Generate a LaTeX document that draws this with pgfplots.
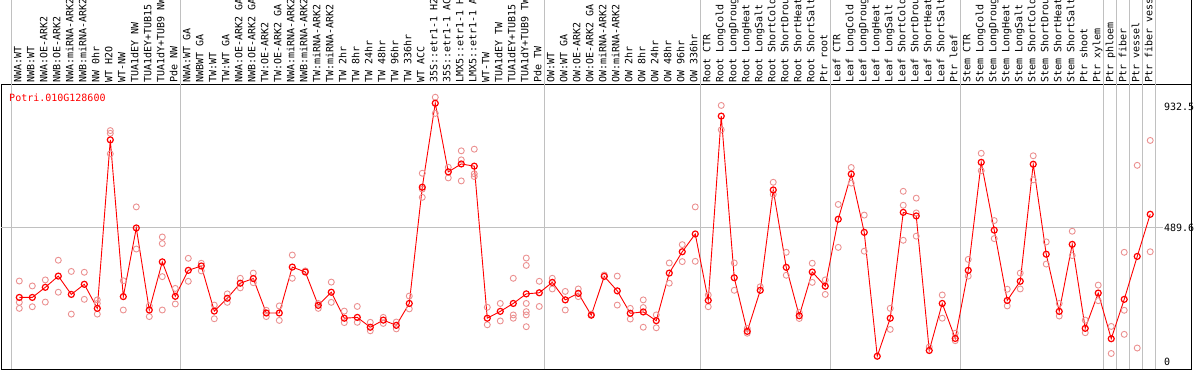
\documentclass[border=0pt]{standalone}
\usepackage{pgfplots}
\pgfplotsset{compat=1.18}
\usepackage{fontspec}
\setmonofont{DejaVu Sans Mono}
\definecolor{gridgray}{RGB}{192,192,192}
\definecolor{reppink}{RGB}{235,145,145}
\begin{document}
\begin{tikzpicture}
\begin{axis}[
  at={(1bp,1bp)}, anchor=south west,
  scale only axis, width=1191bp, height=284bp,
  xmin=-1.408, xmax=90.21, ymin=-26.7, ymax=1011.7,
  clip=false,
  axis line style={black, line width=1bp},
  ytick=\empty,
  xtick={0,...,87},
  major tick length=0pt,
  xticklabel pos=upper,
  xticklabel style={rotate=90, anchor=mid west, inner sep=0pt, yshift=0pt, xshift=2bp, font=\ttfamily\fontsize{10bp}{12bp}\selectfont},
  xticklabels={NWA:WT,NWB:WT,NWA:OE-ARK2,NWB:OE-ARK2,NWA:miRNA-ARK2,NWB:miRNA-ARK2,NW 0hr,WT H2O,WT-NW,TUA1dEY NW,TUA1dEY+TUB15,TUA1dY+TUB9 NW,Pde NW,
  NWA:WT GA,NWBWT GA,TW:WT,TW:WT GA,NWA:OE-ARK2 GA,NWB:OE-ARK2 GA,TW:OE-ARK2,TW:OE-ARK2 GA,NWA:miRNA-ARK2,NWB:miRNA-ARK2,TW:miRNA-ARK2,TW:miRNA-ARK2,TW 2hr,TW 8hr,TW 24hr,TW 48hr,TW 96hr,TW 336hr,WT ACC,35S::etr1-1 H2,35S::etr1-1 AC,LMX5::etr1-1 H,LMX5::etr1-1 A,WT-TW,TUA1dEY TW,TUA1dEY+TUB15,TUA1dY+TUB9 TW,Pde TW,
  OW:WT,OW:WT GA,OW:OE-ARK2,OW:OE-ARK2 GA,OW:miRNA-ARK2,OW:miRNA-ARK2,OW 2hr,OW 8hr,OW 24hr,OW 48hr,OW 96hr,OW 336hr,
  Root CTR,Root LongCold,Root LongDroug,Root LongHeat,Root LongSalt,Root ShortCold,Root ShortDrou,Root ShortHeat,Root ShortSalt,Ptr root,
  Leaf CTR,Leaf LongCold,Leaf LongDroug,Leaf LongHeat,Leaf LongSalt,Leaf ShortCold,Leaf ShortDrou,Leaf ShortHeat,Leaf ShortSalt,Ptr leaf,
  Stem CTR,Stem LongCold,Stem LongDroug,Stem LongHeat,Stem LongSalt,Stem ShortCold,Stem ShortDrou,Stem ShortHeat,Stem ShortSalt,Ptr shoot,
  Ptr xylem,Ptr phloem,Ptr fiber,Ptr vessel,Ptr fiber vess},
]
% grid lines
\draw[gridgray, line width=1bp] (axis cs:-1.408,489.6) -- (axis cs:87.98,489.6);
\draw[gridgray, line width=1bp] (axis cs:-0.6,-26.7) -- (axis cs:-0.6,1322.5);
\draw[gridgray, line width=1bp] (axis cs:12.4,-26.7) -- (axis cs:12.4,1322.5);
\draw[gridgray, line width=1bp] (axis cs:40.4,-26.7) -- (axis cs:40.4,1322.5);
\draw[gridgray, line width=1bp] (axis cs:52.4,-26.7) -- (axis cs:52.4,1322.5);
\draw[gridgray, line width=1bp] (axis cs:62.4,-26.7) -- (axis cs:62.4,1322.5);
\draw[gridgray, line width=1bp] (axis cs:72.4,-26.7) -- (axis cs:72.4,1322.5);
\draw[gridgray, line width=1bp] (axis cs:83.4,-26.7) -- (axis cs:83.4,1322.5);
\draw[gridgray, line width=1bp] (axis cs:84.4,-26.7) -- (axis cs:84.4,1322.5);
\draw[gridgray, line width=1bp] (axis cs:85.4,-26.7) -- (axis cs:85.4,1322.5);
\draw[gridgray, line width=1bp] (axis cs:86.4,-26.7) -- (axis cs:86.4,1322.5);
\draw[gridgray, line width=1bp] (axis cs:87.4,-26.7) -- (axis cs:87.4,1322.5);
\draw[black, line width=1bp] (axis cs:90.21,1011.7) -- (axis cs:90.21,1322.5);
% replicates
\addplot[only marks, mark=o, mark size=3bp, color=reppink, mark options={line width=0.9bp}] coordinates {
(0,295)(0,217)(0,195)(1,277)(1,201)(2,299)(2,218)(3,371)(3,254)(4,330)(4,174)(5,327)(5,228)
(6,226)(6,213)(6,174)(7,845)(7,835)(7,760)(8,296)(8,189)(9,566)(9,412)(10,204)(10,165)
(11,456)(11,432)(11,311)(11,189)(12,268)(12,211)(13,378)(13,294)(14,360)(14,332)(15,207)(15,157)
(16,248)(16,217)(17,305)(17,270)(18,324)(18,289)(19,165)(19,188)(20,204)(20,151)(21,390)(21,305)
(22,332)(23,213)(23,195)(24,291)(24,217)(25,185)(25,143)(26,202)(26,144)(27,144)(27,113)
(28,162)(28,140)(29,145)(29,120)(30,240)(30,193)(31,689)(31,631)(31,601)(32,967)(32,908)
(33,711)(33,672)(34,771)(34,738)(34,661)(35,777)(35,687)(35,677)(36,199)(36,135)(37,213)(37,149)
(38,305)(38,171)(38,159)(39,379)(39,352)(39,213)(39,183)(39,171)(39,128)(40,294)(40,202)
(41,305)(41,266)(42,257)(42,189)(43,266)(43,238)(44,174)(45,317)(46,313)(46,207)(47,195)(47,156)
(48,226)(48,198)(48,126)(49,171)(49,124)(50,361)(50,287)(51,428)(51,366)(52,566)(52,367)
(53,244)(53,201)(54,937)(54,848)(55,361)(55,261)(56,122)(56,104)(57,274)(58,656)(58,612)
(59,400)(59,316)(60,180)(60,158)(61,360)(61,290)(62,299)(62,246)(63,575)(63,418)(64,710)(64,653)
(65,536)(65,404)(67,195)(67,118)(68,623)(68,572)(68,444)(69,598)(69,544)(69,459)(70,54)
(71,244)(71,159)(72,104)(72,77)(73,374)(73,313)(74,762)(74,698)(75,516)(75,450)(76,265)(76,204)
(77,324)(77,266)(78,753)(78,665)(79,438)(79,357)(80,213)(80,167)(81,477)(81,388)(82,152)(82,106)
(83,280)(83,223)(84,129)(84,30)(85,400)(85,188)(85,100)(86,718)(86,50)(87,809)(87,402)
};
% means
\addplot[red, line width=0.9bp, mark=o, mark size=3bp, mark options={line width=1.2bp, solid}] coordinates {
(0,235)(1,235)(2,272)(3,313)(4,246)(5,283)(6,195)(7,811)(8,238)(9,489)(10,189)(11,365)(12,239)
(13,334)(14,350)(15,185)(16,232)(17,287)(18,304)(19,178)(20,178)(21,346)(22,328)(23,206)(24,254)
(25,159)(26,162)(27,126)(28,152)(29,133)(30,213)(31,638)(32,945)(33,694)(34,723)(35,715)(36,159)
(37,184)(38,213)(39,248)(40,252)(41,290)(42,226)(43,250)(44,170)(45,312)(46,259)(47,177)(48,182)
(49,150)(50,324)(51,402)(52,467)(53,224)(54,898)(55,307)(56,111)(57,261)(58,628)(59,345)(60,168)
(61,328)(62,276)(63,521)(64,686)(65,473)(66,20)(67,159)(68,546)(69,533)(70,41)(71,213)(72,85)
(73,334)(74,729)(75,481)(76,224)(77,294)(78,722)(79,393)(80,184)(81,429)(82,122)(83,251)(84,84)
(85,228)(86,385)(87,539)
};
% title and value labels
\node[anchor=west, inner sep=0pt, text=red, font=\ttfamily\fontsize{10bp}{12bp}\selectfont] at (axis cs:-0.79,965) {Potri.010G128600};
\node[anchor=west, inner sep=0pt, font=\ttfamily\fontsize{10bp}{12bp}\selectfont] at (axis cs:88.05,932.5) {932.5};
\node[anchor=west, inner sep=0pt, font=\ttfamily\fontsize{10bp}{12bp}\selectfont] at (axis cs:88.05,489.6) {489.6};
\node[anchor=west, inner sep=0pt, font=\ttfamily\fontsize{10bp}{12bp}\selectfont] at (axis cs:88.05,0) {0};
\end{axis}
\pgfresetboundingbox
\useasboundingbox (0,0) rectangle (1194bp,370bp);
\end{tikzpicture}
\end{document}
